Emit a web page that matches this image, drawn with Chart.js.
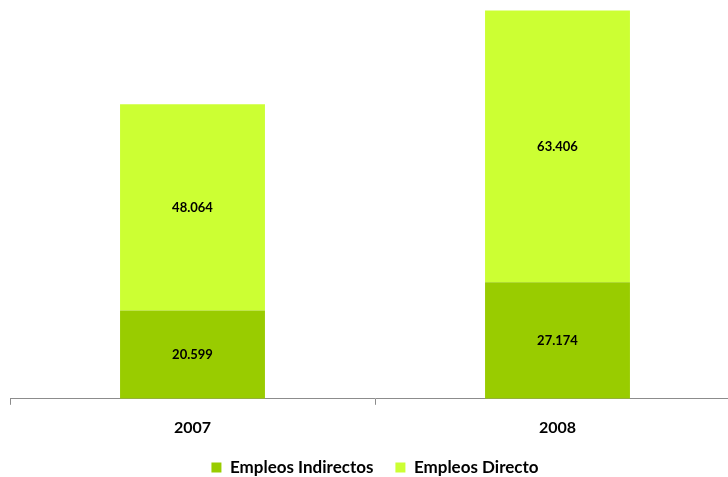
<!DOCTYPE html>
<html>
<head>
<meta charset="utf-8">
<script src="https://cdn.jsdelivr.net/npm/chart.js@4.4.1/dist/chart.umd.min.js"></script>
<style>
  html, body { margin: 0; padding: 0; background: #fff; overflow: hidden; width: 728px; height: 477px; }
  #wrap { position: absolute; left: 0; top: -30px; width: 760px; height: 516px; }
</style>
</head>
<body>
<div id="wrap"><canvas id="empleoChart" width="760" height="516"></canvas></div>
<script>
const years = ['2007', '2008'];
const indirectos = [20599, 27174];
const directos = [48064, 63406];
const yMax = 100000;

// miles con punto: 20599 -> 20.599
function fmt(v) {
    return String(v).replace(/\B(?=(\d{3})+(?!\d))/g, '.');
}

// etiquetas de valor en el centro de cada segmento
const valueLabels = {
    id: 'valueLabels',
    afterDatasetsDraw(chart) {
        const c = chart.ctx;
        c.save();
        c.font = 'bold 13px Lato, "DejaVu Sans", sans-serif';
        c.fillStyle = '#000';
        c.textAlign = 'center';
        c.textBaseline = 'middle';
        chart.data.datasets.forEach((ds, i) => {
            chart.getDatasetMeta(i).data.forEach((bar, j) => {
                const mid = (bar.y + bar.base) / 2;
                c.fillText(fmt(ds.data[j]), bar.x, mid);
            });
        });
        c.restore();
    }
};

const ctx = document.getElementById('empleoChart');
new Chart(ctx, {
    type: 'bar',
    data: {
        labels: years,
        datasets: [{
            label: 'Empleos Indirectos',
            data: indirectos,
            backgroundColor: '#99CC00',
            borderWidth: 0,
            categoryPercentage: 1,
            barPercentage: 0.397
        }, {
            label: 'Empleos Directo',
            data: directos,
            backgroundColor: '#CCFF33',
            borderWidth: 0,
            categoryPercentage: 1,
            barPercentage: 0.397
        }]
    },
    options: {
        responsive: false,
        animation: false,
        layout: { padding: { left: 10, right: 20, top: 0, bottom: 0 } },
        scales: {
            x: {
                stacked: true,
                // pull the legend a bit closer to the year labels
                afterFit(axis) { axis.height -= 13; },
                border: { display: true, color: '#8c8c8c', width: 1 },
                grid: { display: true, drawOnChartArea: false, drawTicks: true, tickLength: 6, color: '#8c8c8c' },
                ticks: { color: '#000', padding: 13, font: { family: 'Lato, "DejaVu Sans", sans-serif', size: 16, weight: 'bold' } }
            },
            y: {
                stacked: true,
                display: false,
                min: 0,
                max: yMax
            }
        },
        plugins: {
            legend: {
                position: 'bottom',
                labels: {
                    boxWidth: 10,
                    boxHeight: 10,
                    padding: 22,
                    color: '#000',
                    font: { family: 'Lato, "DejaVu Sans", sans-serif', size: 17, weight: 'bold' }
                }
            },
            tooltip: { enabled: false }
        }
    },
    plugins: [valueLabels]
});
</script>
</body>
</html>
